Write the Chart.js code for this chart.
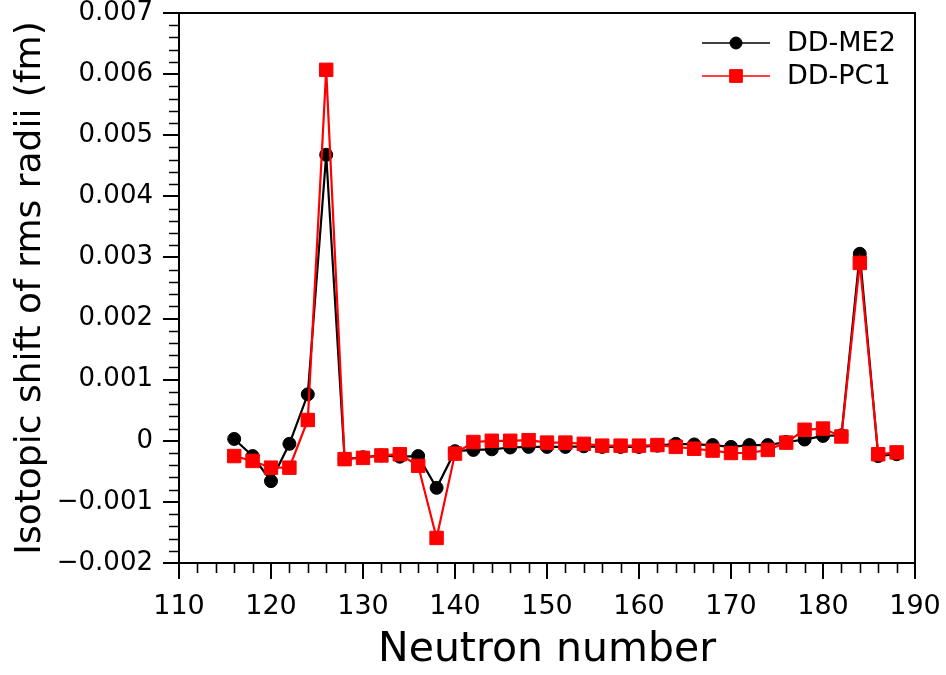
<!DOCTYPE html>
<html>
<head>
<meta charset="utf-8">
<title>Isotopic shift of rms radii</title>
<script src="https://cdn.jsdelivr.net/npm/chart.js@4.4.1/dist/chart.umd.min.js"></script>
<style>
  html, body { margin: 0; padding: 0; background: #ffffff; }
  #wrap { width: 946px; height: 675px; }
  canvas { display: block; }
</style>
</head>
<body>
<div id="wrap"><canvas id="chart" width="946" height="675"></canvas></div>
<script>
// Neutron numbers
const neutrons = [116, 118, 120, 122, 124, 126, 128, 130, 132, 134, 136, 138, 140,
  142, 144, 146, 148, 150, 152, 154, 156, 158, 160, 162, 164, 166, 168, 170,
  172, 174, 176, 178, 180, 182, 184, 186, 188];

// Isotopic shift (fm), DD-ME2
const ddme2 = [0.00003, -0.00025, -0.00066, -0.00005, 0.00076, 0.00468, -0.00030,
  -0.00027, -0.00024, -0.00026, -0.00025, -0.00077, -0.00017, -0.00015, -0.00014,
  -0.00011, -0.00010, -0.00010, -0.00010, -0.00009, -0.00010, -0.00010, -0.00010,
  -0.00008, -0.00005, -0.00006, -0.00007, -0.00010, -0.00007, -0.00007, -0.00002,
  0.00002, 0.00008, 0.00009, 0.00306, -0.00025, -0.00022];

// Isotopic shift (fm), DD-PC1
const ddpc1 = [-0.00025, -0.00033, -0.00044, -0.00044, 0.00034, 0.00607, -0.00030,
  -0.00028, -0.00024, -0.00022, -0.00041, -0.00159, -0.00021, -0.00002, 0.00000,
  0.00000, 0.00001, -0.00003, -0.00003, -0.00005, -0.00008, -0.00008, -0.00008,
  -0.00007, -0.00010, -0.00013, -0.00016, -0.00020, -0.00020, -0.00015, -0.00003,
  0.00018, 0.00020, 0.00007, 0.00291, -0.00022, -0.00019];

// Axis ranges and tick spacing
const xRange = [110, 190];
const xMajor = 10, xMinor = 2;
const yRange = [-0.002, 0.007];
const yMajor = 0.001, yMinor = 0.0002;

const FONT = 'DejaVu Sans';

function toPoints(xs, ys) {
  return xs.map((x, i) => ({ x: x, y: ys[i] }));
}

function formatY(v) {
  if (Math.abs(v) < 1e-10) return '0';
  const s = Math.abs(v).toFixed(3);
  return v < 0 ? '\u2212' + s : s;
}

// Minor ticks, top/right frame and the line-with-marker legend
const decorations = {
  id: 'decorations',
  afterDraw(chart) {
    const { ctx, chartArea: a, scales: { x, y } } = chart;
    ctx.save();
    ctx.strokeStyle = '#000';
    ctx.lineWidth = 1.6;
    ctx.beginPath();
    const nx = Math.round((xRange[1] - xRange[0]) / xMinor);
    for (let k = 0; k <= nx; k++) {
      const v = xRange[0] + k * xMinor;
      if (Math.abs(v / xMajor - Math.round(v / xMajor)) < 1e-9) continue;
      const px = Math.round(x.getPixelForValue(v)) + 0.5;
      ctx.moveTo(px, a.bottom);
      ctx.lineTo(px, a.bottom + 10);
    }
    const ny = Math.round((yRange[1] - yRange[0]) / yMinor);
    for (let k = 0; k <= ny; k++) {
      if (k % 5 === 0) continue;
      const v = yRange[0] + k * yMinor;
      const py = Math.round(y.getPixelForValue(v)) + 0.5;
      ctx.moveTo(a.left, py);
      ctx.lineTo(a.left - 10, py);
    }
    ctx.stroke();

    // frame top and right
    ctx.lineWidth = 2;
    ctx.beginPath();
    ctx.moveTo(a.left, a.top);
    ctx.lineTo(a.right, a.top);
    ctx.lineTo(a.right, a.bottom);
    ctx.stroke();

    // legend
    const entries = [
      { label: 'DD-ME2', color: '#000000', style: 'circle', radius: 6 },
      { label: 'DD-PC1', color: '#ff0000', style: 'rect', radius: 9 }
    ];
    const x0 = a.right - 213, x1 = a.right - 145, xm = a.right - 179, xt = a.right - 128;
    entries.forEach((e, i) => {
      const yy = a.top + 30 + i * 33;
      ctx.strokeStyle = e.color;
      ctx.lineWidth = 1.5;
      ctx.beginPath();
      ctx.moveTo(x0, yy);
      ctx.lineTo(x1, yy);
      ctx.stroke();
      ctx.fillStyle = e.color;
      ctx.strokeStyle = e.color;
      ctx.lineWidth = 1;
      Chart.helpers.drawPoint(ctx, { pointStyle: e.style, radius: e.radius, rotation: 0, borderWidth: 1 }, xm, yy);
      ctx.fillStyle = '#000';
      ctx.font = '27px "' + FONT + '"';
      ctx.textAlign = 'left';
      ctx.textBaseline = 'middle';
      ctx.fillText(e.label, xt, yy + 1);
    });
    ctx.restore();
  }
};

new Chart(document.getElementById('chart'), {
  type: 'line',
  data: {
    datasets: [
      {
        label: 'DD-ME2',
        data: toPoints(neutrons, ddme2),
        borderColor: '#000000',
        backgroundColor: '#000000',
        borderWidth: 2.2,
        pointStyle: 'circle',
        pointRadius: 6.5,
        pointBorderWidth: 1,
        tension: 0,
        order: 2
      },
      {
        label: 'DD-PC1',
        data: toPoints(neutrons, ddpc1),
        borderColor: '#ff0000',
        backgroundColor: '#ff0000',
        borderWidth: 2.2,
        pointStyle: 'rect',
        pointRadius: 9.5,
        pointBorderWidth: 1,
        tension: 0,
        order: 1
      }
    ]
  },
  options: {
    responsive: false,
    devicePixelRatio: 1,
    animation: false,
    layout: { padding: { left: 0, right: 31, top: 13, bottom: 0 } },
    plugins: {
      legend: { display: false },
      tooltip: { enabled: false }
    },
    scales: {
      x: {
        type: 'linear',
        min: xRange[0],
        max: xRange[1],
        afterFit(scale) {
          scale.height = 112;
          scale.paddingLeft = 0;
          scale.paddingRight = 0;
        },
        border: { display: true, color: '#000', width: 2 },
        grid: { drawOnChartArea: false, drawTicks: true, tickLength: 16, color: '#000', lineWidth: 2 },
        ticks: {
          stepSize: xMajor,
          autoSkip: false,
          maxRotation: 0,
          padding: 14,
          color: '#000',
          font: { family: FONT, size: 27, lineHeight: 1 }
        },
        title: {
          display: true,
          text: 'Neutron number',
          color: '#000',
          font: { family: FONT, size: 41, lineHeight: 1.2 },
          padding: { top: 0, bottom: 0 }
        }
      },
      y: {
        type: 'linear',
        min: yRange[0],
        max: yRange[1],
        afterFit(scale) {
          scale.width = 179;
          scale.paddingTop = 0;
          scale.paddingBottom = 0;
        },
        border: { display: true, color: '#000', width: 2 },
        grid: { drawOnChartArea: false, drawTicks: true, tickLength: 16, color: '#000', lineWidth: 2 },
        ticks: {
          stepSize: yMajor,
          autoSkip: false,
          padding: 10,
          color: '#000',
          font: { family: FONT, size: 26, lineHeight: 1 },
          callback: (v) => formatY(v)
        },
        title: {
          display: true,
          text: 'Isotopic shift of rms radii (fm)',
          color: '#000',
          font: { family: FONT, size: 36, lineHeight: 1.2 },
          padding: { top: 9, bottom: 0 }
        }
      }
    }
  },
  plugins: [decorations]
});
</script>
</body>
</html>
